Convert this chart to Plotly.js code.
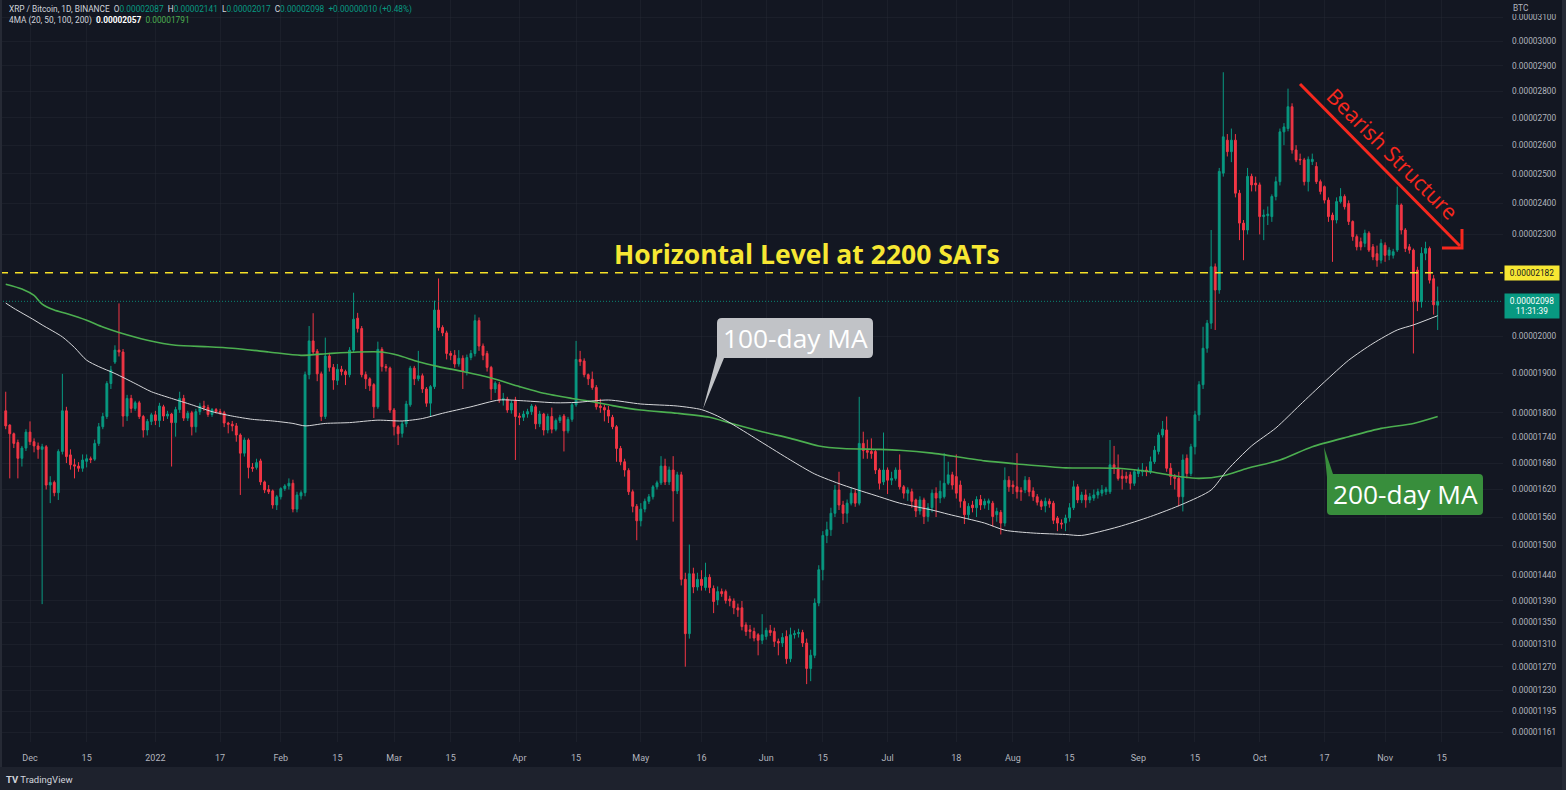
<!DOCTYPE html>
<html>
<head>
<meta charset="utf-8">
<script src="https://cdn.plot.ly/plotly-3.0.1.min.js"></script>
<style>
  html, body { margin: 0; padding: 0; background: #131722; }
  #chart { width: 1566px; height: 790px; }
</style>
</head>
<body>
<div id="chart"></div>
<script>
// ---------------- DATA (prices in satoshis, daily candles from 2021-11-25) ----------------
const startDate = '2021-11-25';

const open = [
1805,1770,1749,1728,1691,1715,1753,1730,1720,1712,
1718,1630,1636,1613,1707,1805,1699,1676,1673,1668,
1684,1690,1689,1726,1766,1791,1874,1930,1962,1957,
1792,1836,1811,1825,1791,1758,1779,1795,1781,1815,
1792,1797,1776,1808,1836,1787,1800,1766,1803,1817,
1813,1796,1808,1803,1800,1775,1772,1768,1746,1703,
1734,1670,1670,1685,1637,1620,1617,1586,1604,1622,
1628,1634,1577,1606,1613,1897,1987,1959,1899,1791,
1946,1916,1882,1911,1905,1897,1962,2050,2021,1897,
1886,1871,1815,1964,1918,1914,1807,1766,1750,1773,
1820,1914,1886,1894,1860,1824,1866,2073,2024,2009,
1953,1948,1925,1940,1905,1942,1953,2043,1973,1953,
1916,1860,1871,1832,1834,1807,1832,1792,1789,1797,
1803,1815,1773,1797,1758,1791,1760,1781,1792,1756,
1784,1820,1937,1933,1897,1885,1864,1817,1813,1807,
1789,1766,1714,1683,1663,1615,1583,1552,1577,1594,
1604,1626,1635,1673,1637,1664,1617,1653,1432,1329,
1443,1417,1432,1416,1436,1414,1392,1408,1408,1394,
1390,1377,1377,1345,1336,1333,1327,1317,1324,1335,
1333,1315,1312,1324,1284,1327,1329,1331,1312,1267,
1290,1386,1451,1521,1533,1568,1619,1586,1568,1590,
1612,1590,1726,1709,1707,1707,1664,1637,1664,1641,
1645,1664,1626,1612,1615,1597,1573,1597,1561,1580,
1612,1601,1604,1634,1653,1649,1630,1594,1565,1586,
1580,1598,1586,1590,1590,1565,1570,1547,1641,1630,
1626,1618,1619,1641,1617,1604,1594,1584,1594,1590,
1558,1547,1547,1558,1580,1626,1597,1608,1597,1601,
1608,1612,1615,1615,1676,1668,1650,1650,1653,1634,
1656,1660,1664,1660,1683,1707,1746,1758,1668,1649,
1645,1604,1691,1656,1718,1795,1871,1967,2036,2200,
2131,2502,2618,2577,2618,2434,2336,2314,2491,2468,
2462,2357,2360,2357,2423,2473,2648,2660,2741,2583,
2550,2548,2473,2542,2525,2473,2456,2411,2362,2346,
2406,2423,2400,2341,2293,2277,2272,2304,2261,2240,
2220,2266,2235,2235,2251,2395,2314,2261,2251,2190,
2097,2241,2256,2164,2087
];

const high = [
1853,1772,1752,1735,1720,1760,1779,1738,1728,1725,
1722,1650,1640,1712,1899,1815,1712,1690,1682,1700,
1700,1695,1735,1775,1800,1880,1920,1975,2092,1965,
1845,1845,1830,1830,1795,1785,1800,1805,1825,1820,
1805,1800,1815,1853,1845,1805,1805,1810,1825,1830,
1820,1812,1812,1810,1805,1778,1780,1775,1750,1740,
1738,1680,1690,1690,1640,1630,1620,1608,1625,1632,
1645,1642,1615,1618,1905,2028,2064,1965,1905,1996,
1955,1925,1925,1920,1910,1970,2123,2065,2028,1905,
1890,1875,1985,1970,1925,1918,1812,1770,1780,1830,
1920,1920,1960,1900,1865,1870,2100,2165,2030,2015,
1960,1962,1962,1948,1950,1962,2060,2052,1980,1960,
1920,1880,1878,1850,1840,1832,1840,1800,1805,1810,
1822,1820,1805,1800,1798,1813,1786,1795,1797,1790,
1825,1987,1960,1940,1900,1905,1870,1835,1820,1817,
1795,1770,1720,1690,1668,1620,1588,1590,1600,1610,
1630,1640,1696,1690,1672,1696,1660,1660,1445,1502,
1455,1445,1450,1465,1442,1420,1418,1414,1412,1400,
1395,1385,1390,1350,1345,1340,1330,1365,1340,1345,
1340,1320,1330,1335,1340,1335,1338,1336,1320,1300,
1395,1460,1530,1550,1580,1630,1660,1595,1598,1625,
1620,1840,1754,1735,1738,1712,1668,1752,1670,1660,
1670,1700,1630,1625,1622,1600,1605,1602,1590,1620,
1625,1640,1703,1683,1660,1700,1640,1600,1590,1595,
1605,1608,1600,1600,1595,1580,1575,1670,1650,1640,
1703,1625,1650,1648,1625,1610,1598,1602,1600,1595,
1562,1555,1565,1590,1640,1632,1615,1620,1612,1620,
1622,1630,1626,1734,1720,1700,1665,1660,1660,1665,
1670,1680,1672,1695,1720,1752,1780,1791,1680,1655,
1660,1700,1700,1725,1805,1880,2026,2045,2314,2210,
2520,2874,2640,2660,2640,2445,2346,2520,2500,2490,
2470,2380,2390,2430,2490,2660,2680,2810,2754,2600,
2570,2555,2560,2570,2540,2480,2460,2420,2370,2420,
2451,2430,2410,2345,2300,2290,2315,2310,2270,2265,
2285,2275,2260,2255,2456,2400,2320,2270,2256,2200,
2260,2277,2262,2175,2141
];

const low = [
1760,1645,1715,1645,1672,1708,1722,1705,1690,1384,
1620,1590,1605,1597,1700,1680,1665,1645,1660,1660,
1670,1680,1685,1720,1760,1785,1860,1925,1945,1766,
1780,1800,1805,1785,1740,1745,1770,1770,1765,1780,
1785,1672,1742,1800,1780,1780,1745,1752,1795,1805,
1790,1790,1798,1795,1765,1750,1755,1730,1608,1695,
1645,1660,1665,1630,1612,1610,1578,1575,1598,1617,
1620,1570,1570,1598,1605,1885,1950,1880,1780,1785,
1905,1858,1870,1895,1870,1890,1955,2010,1890,1860,
1855,1787,1810,1905,1905,1800,1745,1722,1740,1765,
1815,1870,1880,1850,1815,1791,1860,2015,2000,1937,
1935,1915,1918,1860,1895,1935,1945,1960,1935,1905,
1832,1850,1825,1818,1800,1798,1687,1770,1780,1788,
1795,1760,1765,1745,1750,1750,1755,1775,1707,1750,
1778,1815,1920,1890,1870,1858,1808,1800,1779,1775,
1760,1683,1675,1649,1608,1570,1511,1540,1570,1588,
1598,1620,1630,1630,1630,1550,1610,1420,1270,1320,
1405,1410,1410,1410,1405,1367,1382,1398,1385,1380,
1365,1360,1335,1325,1320,1315,1290,1310,1318,1325,
1305,1290,1305,1275,1278,1320,1322,1305,1240,1245,
1285,1380,1430,1505,1520,1560,1575,1545,1548,1585,
1582,1585,1690,1690,1690,1655,1620,1630,1610,1630,
1640,1620,1600,1595,1580,1560,1565,1545,1550,1570,
1560,1590,1600,1630,1620,1600,1580,1545,1555,1570,
1560,1575,1578,1575,1540,1550,1523,1540,1615,1610,
1600,1595,1612,1605,1595,1585,1575,1570,1580,1545,
1530,1535,1530,1550,1575,1590,1590,1580,1590,1595,
1600,1605,1608,1610,1655,1640,1620,1635,1620,1628,
1648,1650,1650,1655,1678,1700,1740,1660,1630,1620,
1583,1572,1645,1650,1700,1780,1860,1955,2020,2017,
2120,2490,2560,2540,2420,2282,2220,2300,2440,2440,
2300,2282,2330,2340,2410,2460,2600,2650,2570,2540,
2530,2460,2440,2530,2465,2430,2400,2340,2215,2335,
2400,2380,2330,2280,2250,2250,2260,2245,2220,2200,
2210,2215,2220,2225,2245,2300,2245,2240,1953,2070,
2080,2220,2150,2060,2017
];

const close = [
1768,1749,1726,1691,1715,1753,1730,1720,1712,1718,
1630,1636,1613,1707,1805,1695,1676,1673,1668,1687,
1690,1688,1726,1766,1791,1874,1909,1962,1957,1792,
1836,1811,1825,1791,1758,1779,1795,1781,1817,1792,
1797,1776,1808,1836,1787,1799,1766,1803,1817,1813,
1796,1808,1803,1800,1775,1772,1768,1746,1703,1734,
1670,1668,1681,1637,1619,1615,1586,1604,1622,1628,
1634,1577,1608,1613,1897,1987,1957,1899,1791,1946,
1916,1883,1911,1905,1897,1962,2047,2021,1897,1886,
1868,1815,1964,1918,1915,1807,1766,1749,1773,1822,
1914,1886,1894,1860,1824,1866,2073,2024,2009,1953,
1948,1925,1940,1905,1942,1953,2043,1973,1948,1916,
1860,1875,1832,1836,1807,1824,1791,1789,1797,1803,
1817,1773,1797,1758,1791,1760,1781,1789,1756,1784,
1820,1937,1931,1897,1886,1864,1815,1813,1807,1792,
1766,1714,1683,1664,1615,1583,1552,1577,1594,1604,
1626,1635,1673,1637,1664,1617,1653,1432,1329,1443,
1417,1432,1420,1436,1416,1389,1408,1404,1391,1390,
1377,1373,1342,1333,1333,1321,1317,1327,1335,1331,
1315,1312,1322,1284,1327,1329,1331,1312,1267,1290,
1386,1451,1521,1533,1568,1619,1586,1568,1590,1612,
1590,1726,1709,1705,1702,1664,1634,1664,1641,1645,
1664,1626,1612,1619,1594,1573,1597,1561,1580,1612,
1601,1616,1634,1653,1630,1612,1594,1565,1583,1580,
1598,1586,1594,1595,1561,1572,1547,1641,1626,1626,
1615,1615,1641,1615,1604,1592,1583,1594,1588,1553,
1547,1545,1558,1580,1626,1597,1608,1597,1604,1608,
1615,1619,1621,1676,1668,1645,1645,1645,1634,1660,
1664,1664,1660,1683,1710,1746,1760,1668,1649,1645,
1604,1687,1656,1718,1795,1871,1967,2036,2200,2131,
2508,2630,2577,2618,2434,2336,2314,2491,2462,2462,
2357,2362,2365,2423,2473,2648,2666,2741,2583,2548,
2548,2473,2550,2550,2473,2440,2411,2357,2346,2406,
2423,2389,2341,2293,2261,2261,2304,2251,2230,2220,
2272,2235,2251,2246,2395,2314,2256,2251,2097,2097,
2241,2256,2160,2088,2098
];

// Moving averages (candle index -> value)
const ma100At = [0,2,7,9,14,17,20,23,27,32,36,41,46,51,56,61,66,71,74,79,85,92,98,103,108,115,122,128,136,141,149,157,166,172,176,180,187,194,200,207,216,221,229,233,242,247,254,262,266,275,283,291,298,302,308,314,320,326,332,338,344,348,354];
const ma100 = [2093,2078,2045,2031,1998,1969,1935,1918,1900,1874,1853,1836,1820,1803,1792,1784,1780,1774,1768,1774,1776,1782,1780,1786,1799,1815,1832,1830,1825,1826,1832,1822,1817,1808,1792,1770,1728,1687,1655,1630,1604,1590,1575,1566,1547,1532,1526,1523,1521,1539,1561,1588,1619,1664,1720,1763,1820,1878,1935,1980,2017,2031,2057];
const ma200At = [0,4,7,9,12,15,20,24,28,35,42,50,56,65,73,80,87,93,97,102,107,113,120,127,133,140,145,150,157,166,174,179,187,194,201,207,216,221,229,242,250,262,275,283,291,295,301,307,315,323,332,340,348,354];
const ma200 = [2148,2134,2115,2090,2073,2063,2044,2025,2010,1989,1975,1971,1967,1957,1948,1953,1957,1957,1948,1931,1918,1905,1888,1866,1849,1836,1828,1818,1807,1799,1789,1775,1754,1738,1720,1714,1712,1710,1703,1685,1678,1669,1668,1660,1648,1645,1651,1668,1687,1718,1742,1762,1774,1791];

const horizontalLevel = 2182;
const priceTicks = [3100,3000,2900,2800,2700,2600,2500,2400,2300,2000,1900,1800,1740,1680,1620,1560,1500,1440,1390,1350,1310,1270,1230,1195,1161];
const dateTicks = ['2021-12-01','2021-12-15','2022-01-01','2022-01-17','2022-02-01','2022-02-15','2022-03-01','2022-03-15','2022-04-01','2022-04-15','2022-05-01','2022-05-16','2022-06-01','2022-06-15','2022-07-01','2022-07-18','2022-08-01','2022-08-15','2022-09-01','2022-09-15','2022-10-01','2022-10-17','2022-11-01','2022-11-15'];
const dateTickText = ['Dec','15','2022','17','Feb','15','Mar','15','Apr','15','May','16','Jun','15','Jul','18','Aug','15','Sep','15','Oct','17','Nov','15'];
const countdown = '11:31:39';

// ---------------- BUILD ----------------
const t0 = Date.parse(startDate + 'T00:00:00Z');
const dates = close.map((_, i) => new Date(t0 + i * 864e5).toISOString().slice(0, 10));
const fmt = v => (v / 1e8).toFixed(8);
const xRange = ['2021-11-23 14:00', '2022-11-30 03:36'];
const yRange = [Math.log10(1145.2), Math.log10(3173.9)];

const W = 1503, H = 742;           // plot area in pixels
const px = x => x / W;
const py = y => 1 - y / H;
const P = (x, y) => px(x).toFixed(5) + ',' + py(y).toFixed(5);

const GREEN = '#089981', RED = '#f23645', GRAY = '#b2b5be';
const last = close.length - 1;

const traces = [
  {
    type: 'candlestick', x: dates, open: open, high: high, low: low, close: close,
    increasing: { line: { color: GREEN, width: 1 }, fillcolor: GREEN },
    decreasing: { line: { color: RED, width: 1 }, fillcolor: RED },
    whiskerwidth: 0, hoverinfo: 'skip', showlegend: false
  },
  {
    type: 'scatter', mode: 'lines', x: ma200At.map(i => dates[i]), y: ma200,
    line: { color: '#4caf50', width: 1.6, shape: 'spline', smoothing: 0.7 }, hoverinfo: 'skip', showlegend: false
  },
  {
    type: 'scatter', mode: 'lines', x: ma100At.map(i => dates[i]), y: ma100,
    line: { color: '#d6d7da', width: 1, shape: 'spline', smoothing: 0.7 }, hoverinfo: 'skip', showlegend: false
  },
  {
    type: 'scatter', mode: 'lines', x: xRange, y: [horizontalLevel, horizontalLevel],
    line: { color: '#f5e027', width: 1.6, dash: '8px,7px' }, hoverinfo: 'skip', showlegend: false
  },
  {
    type: 'scatter', mode: 'lines', x: xRange, y: [close[last], close[last]],
    line: { color: 'rgba(8,153,129,0.85)', width: 1, dash: '1px,2px' }, hoverinfo: 'skip', showlegend: false
  }
];

const chg = close[last] - close[last - 1];
const pct = (chg / close[last - 1] * 100).toFixed(2);
const sp = '\u00a0\u00a0';
const g = s => '<span style="color:' + GREEN + '">' + s + '</span>';
const w = s => '<span style="color:#d1d4dc">' + s + '</span>';
const header1 = w('XRP / Bitcoin, 1D, BINANCE') + sp + w('O') + g(fmt(open[last])) + sp + w('H') + g(fmt(high[last])) + sp +
  w('L') + g(fmt(low[last])) + sp + w('C') + g(fmt(close[last])) + sp + g((chg >= 0 ? '+' : '') + fmt(chg) + ' (' + (chg >= 0 ? '+' : '') + pct + '%)');
const header2 = w('4MA (20, 50, 100, 200)') + sp + '<span style="color:#ffffff"><b>' + fmt(ma100[ma100.length - 1]) + '</b></span>' + sp +
  '<span style="color:#4caf50">' + fmt(ma200[ma200.length - 1]) + '</span>';

const annotations = [
  { xref: 'paper', yref: 'paper', x: px(7), y: py(9), xanchor: 'left', yanchor: 'middle', showarrow: false,
    text: header1, font: { family: 'Roboto, sans-serif', size: 8.3, color: '#d1d4dc' } },
  { xref: 'paper', yref: 'paper', x: px(7), y: py(21), xanchor: 'left', yanchor: 'middle', showarrow: false,
    text: header2, font: { family: 'Roboto, sans-serif', size: 8.3, color: '#d1d4dc' } },
  { xref: 'paper', yref: 'paper', x: px(807), y: py(254), xanchor: 'center', yanchor: 'middle', showarrow: false,
    text: '<b>Horizontal Level at 2200 SATs</b>', font: { family: 'Open Sans, sans-serif', size: 26.5, color: '#f7e733' } },
  { xref: 'paper', yref: 'paper', x: px(795), y: py(338), xanchor: 'center', yanchor: 'middle', showarrow: false,
    text: '100-day MA', font: { family: 'Open Sans, sans-serif', size: 26.3, color: '#ffffff' } },
  { xref: 'paper', yref: 'paper', x: px(1405), y: py(494), xanchor: 'center', yanchor: 'middle', showarrow: false,
    text: '200-day MA', font: { family: 'Open Sans, sans-serif', size: 26.3, color: '#ffffff' } },
  { xref: 'paper', yref: 'paper', x: px(1393), y: py(153), xanchor: 'center', yanchor: 'middle', showarrow: false,
    textangle: 45, text: 'Bearish Structure', font: { family: 'Open Sans, sans-serif', size: 21.5, color: '#f7281e' } },
  { xref: 'paper', yref: 'y', x: px(1504), y: Math.log10(horizontalLevel), xanchor: 'left', yanchor: 'middle', showarrow: false,
    text: fmt(horizontalLevel), bgcolor: '#f7e733', borderpad: 2, width: 50, height: 10,
    font: { family: 'Roboto, sans-serif', size: 8.3, color: '#131722' } },
  { xref: 'paper', yref: 'y', x: px(1504), y: Math.log10(close[last]), xanchor: 'left', yanchor: 'top', yshift: 8, showarrow: false,
    text: fmt(close[last]) + '<br>' + countdown, bgcolor: GREEN, borderpad: 2, width: 50, height: 20,
    font: { family: 'Roboto, sans-serif', size: 8.3, color: '#ffffff' } },
  { xref: 'paper', yref: 'paper', x: px(1511), y: py(8), xanchor: 'left', yanchor: 'middle', showarrow: false,
    text: 'BTC', font: { family: 'Roboto, sans-serif', size: 8.3, color: GRAY } },
  { xref: 'paper', yref: 'paper', x: px(4), y: py(779), xanchor: 'left', yanchor: 'middle', showarrow: false,
    text: '<b>TV</b> TradingView', font: { family: 'Roboto, sans-serif', size: 9.5, color: '#d1d4dc' } }
];

const box100 = 'M ' + P(722, 318) + ' L ' + P(868, 318) + ' Q ' + P(873, 318) + ' ' + P(873, 323) +
  ' L ' + P(873, 353) + ' Q ' + P(873, 358) + ' ' + P(868, 358) + ' L ' + P(724, 358) +
  ' L ' + P(703, 409) + ' L ' + P(717, 356) + ' L ' + P(717, 323) + ' Q ' + P(717, 318) + ' ' + P(722, 318) + ' Z';
const box200 = 'M ' + P(1333, 474) + ' L ' + P(1479, 474) + ' Q ' + P(1483, 474) + ' ' + P(1483, 478) +
  ' L ' + P(1483, 511) + ' Q ' + P(1483, 515) + ' ' + P(1479, 515) + ' L ' + P(1331, 515) +
  ' Q ' + P(1327, 515) + ' ' + P(1327, 511) + ' L ' + P(1327, 477) + ' L ' + P(1324, 447) + ' Z';

const shapes = [
  // bottom bar, right and left frame strips, header cover of price scale
  { type: 'rect', xref: 'paper', yref: 'paper', x0: -0.01, x1: px(1570), y0: py(792), y1: py(767), fillcolor: '#1e222d', line: { width: 0 }, layer: 'above' },
  { type: 'rect', xref: 'paper', yref: 'paper', x0: px(1562), x1: px(1570), y0: py(792), y1: py(-2), fillcolor: '#262a35', line: { width: 0 }, layer: 'above' },
  { type: 'rect', xref: 'paper', yref: 'paper', x0: px(-2), x1: px(2), y0: py(767), y1: py(-2), fillcolor: '#262a35', line: { width: 0 }, layer: 'above' },
  { type: 'rect', xref: 'paper', yref: 'paper', x0: px(1504), x1: px(1561), y0: py(14), y1: py(-2), fillcolor: '#131722', line: { width: 0 }, layer: 'above' },
  // callout boxes
  { type: 'path', xref: 'paper', yref: 'paper', path: box100, fillcolor: '#c1c3c7', line: { width: 0 }, layer: 'above' },
  { type: 'path', xref: 'paper', yref: 'paper', path: box200, fillcolor: '#388e3c', line: { width: 0 }, layer: 'above' },
  // bearish arrow
  { type: 'line', xref: 'paper', yref: 'paper', x0: px(1300), y0: py(84), x1: px(1460), y1: py(246), line: { color: '#f7281e', width: 3 }, layer: 'above' },
  { type: 'path', xref: 'paper', yref: 'paper', path: 'M ' + P(1442, 248) + ' L ' + P(1462, 248) + ' L ' + P(1462, 229), line: { color: '#f7281e', width: 3 }, layer: 'above' }
];

const layout = {
  width: 1566, height: 790,
  margin: { l: 0, r: 63, t: 0, b: 48 },
  paper_bgcolor: '#131722', plot_bgcolor: '#131722',
  showlegend: false, boxgap: 0.35,
  xaxis: {
    type: 'date', range: xRange, rangeslider: { visible: false },
    tickmode: 'array', tickvals: dateTicks, ticktext: dateTickText,
    tickfont: { family: 'Roboto, sans-serif', size: 9, color: GRAY },
    ticks: '', ticklabelstandoff: 9, showgrid: true, gridcolor: 'rgba(42,46,57,0.35)', gridwidth: 1,
    zeroline: false, showline: false, fixedrange: true
  },
  yaxis: {
    type: 'log', side: 'right', range: yRange,
    tickmode: 'array', tickvals: priceTicks, ticktext: priceTicks.map(fmt),
    tickfont: { family: 'Roboto, sans-serif', size: 8.3, color: GRAY },
    ticks: '', ticklabelstandoff: 8, showgrid: true, gridcolor: 'rgba(42,46,57,0.35)', gridwidth: 1,
    zeroline: false, showline: false, fixedrange: true
  },
  annotations: annotations,
  shapes: shapes
};

Plotly.newPlot('chart', traces, layout, { displayModeBar: false, staticPlot: true });
</script>
</body>
</html>
